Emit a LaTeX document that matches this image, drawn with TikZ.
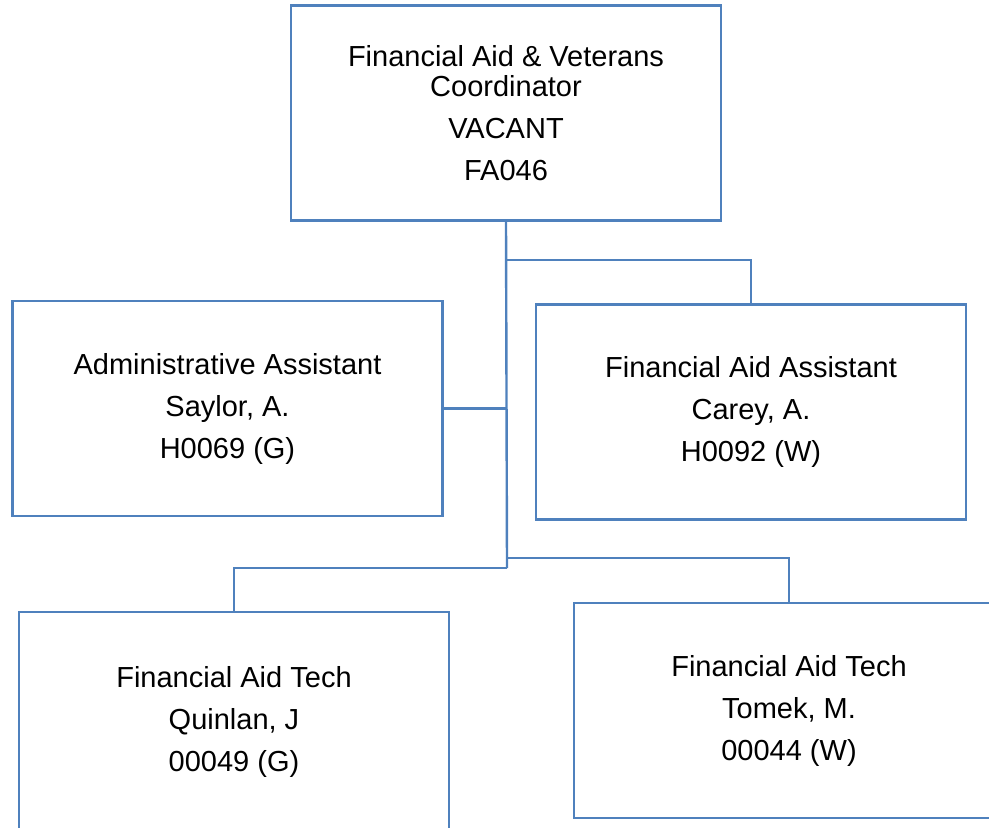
\documentclass[tikz,border=0pt]{standalone}
\usepackage{fontspec}
\setmainfont{Liberation Sans}
\usepackage{xcolor}
\usepackage{tikz}
\definecolor{orgblue}{HTML}{4F81BD}

\begin{document}
\begin{tikzpicture}[x=0.5pt, y=-0.5pt,
    posbox/.style={draw=orgblue, line width=1.2pt, fill=white, align=center,
        minimum width=215pt, minimum height=107.5pt,
        font={\fontsize{14.5}{21}\selectfont}},
    link/.style={draw=orgblue, line width=1.2pt}]
		\useasboundingbox (0,0) rectangle (989,827);
		\clip (0,0) rectangle (989,827);
		% positions
		\node [posbox] (coord) at (506,113) {Financial Aid \& Veterans\\[-6pt]Coordinator\\VACANT\\FA046};
		\node [posbox] (admin) at (227.5,408.5) {Administrative Assistant\\Saylor, A.\\H0069 (G)};
		\node [posbox] (asst) at (751,412) {Financial Aid Assistant\\Carey, A.\\H0092 (W)};
		\node [posbox, minimum height=110pt] (techq) at (234,722) {Financial Aid Tech\\Quinlan, J\\00049 (G)};
		\node [posbox] (techt) at (789,710.5) {Financial Aid Tech\\Tomek, M.\\00044 (W)};
		% reporting lines
		\coordinate (upper) at (507,260);
		\coordinate (lowl) at (507,568);
		\coordinate (lowr) at (507,558);
		\draw [link] (coord.south) -- (lowl);
		\draw [link] (upper) -| (asst.north);
		\draw [link] (admin.east) -- (admin.east -| coord.south);
		\draw [link] (lowl) -| (techq.north);
		\draw [link] (lowr) -| (techt.north);
	\end{tikzpicture}
\end{document}
